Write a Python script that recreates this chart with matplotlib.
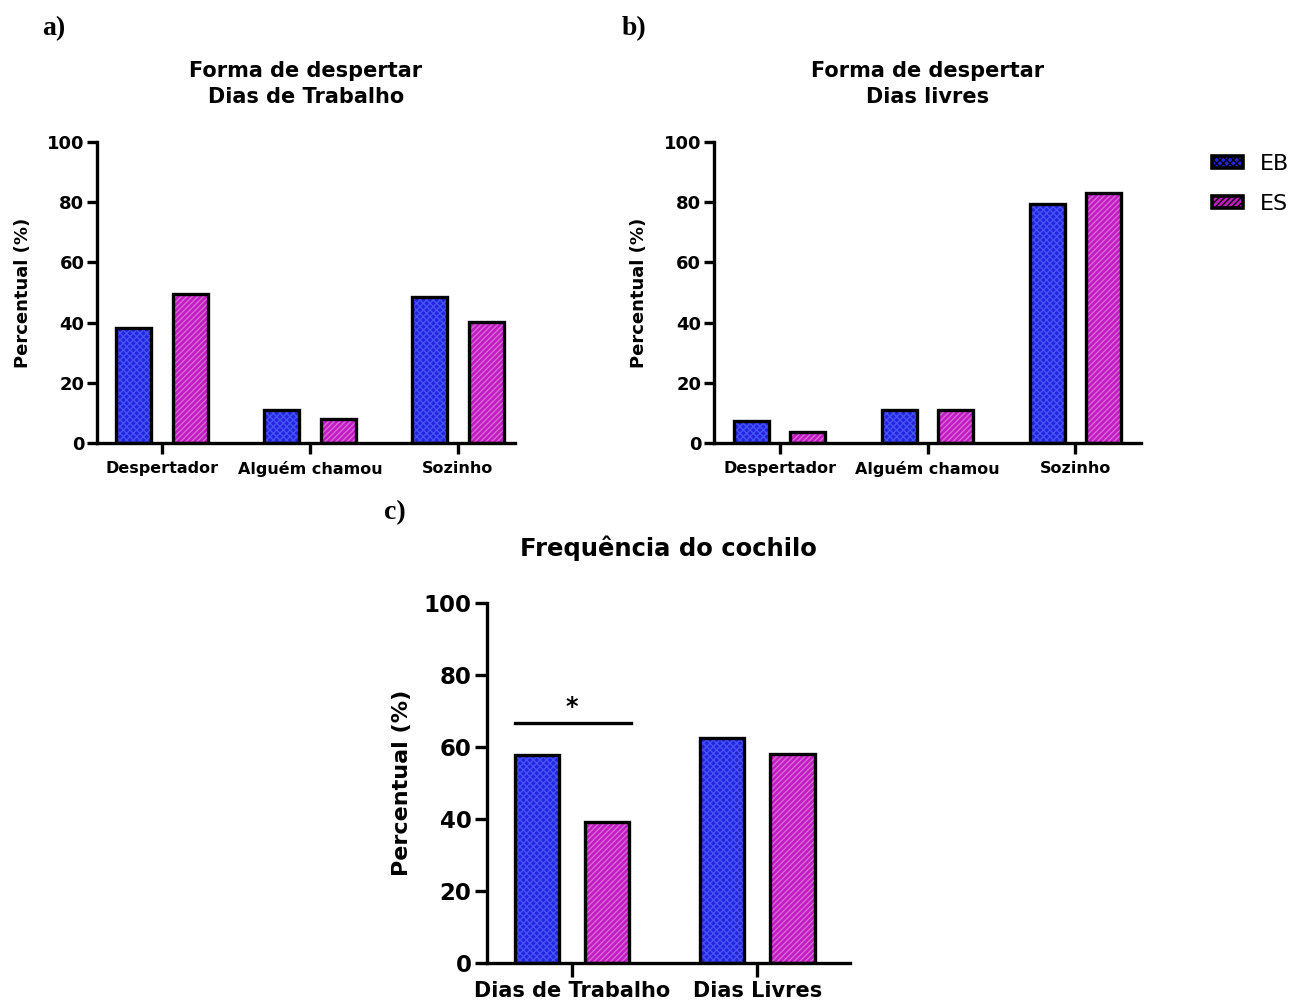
import numpy as np
import matplotlib
matplotlib.use("Agg")
import matplotlib.pyplot as plt
from matplotlib.patches import Patch

plt.rcParams['font.family'] = ['DejaVu Sans']
plt.rcParams['hatch.linewidth'] = 1.0

# data
cat_ab = ["Despertador", "Alguém chamou", "Sozinho"]
trab_eb = [38.2, 11.0, 48.5]
trab_es = [49.5, 8.0, 40.2]
livre_eb = [7.4, 11.0, 79.5]
livre_es = [3.8, 11.0, 83.0]

cat_c = ["Dias de Trabalho", "Dias Livres"]
coch_eb = [57.8, 62.5]
coch_es = [39.3, 58.0]

eb_col, eb_hatch_col = "#2424e0", "#4654f4"
es_col, es_hatch_col = "#c01cc0", "#dc66dc"


def draw_bars(ax, eb, es, off, w):
    x = np.arange(len(eb))
    for xs, vals, fc, hc, h in [(x - off, eb, eb_col, eb_hatch_col, "xxxxx"),
                                (x + off, es, es_col, es_hatch_col, "//////")]:
        ax.bar(xs, vals, w, color=fc, edgecolor=hc, hatch=h, linewidth=0, zorder=2)
        ax.bar(xs, vals, w, fill=False, edgecolor="black", linewidth=2.4, zorder=3)
    return x


def style(ax, labels, x, xfs, yfs, lfs, xlen, ylen, lpad, xpad):
    ax.spines[['top', 'right']].set_visible(False)
    ax.spines[['left', 'bottom']].set_linewidth(2.4)
    ax.set_ylim(0, 100)
    ax.set_yticks([0, 20, 40, 60, 80, 100])
    ax.set_xticks(x)
    ax.set_xticklabels(labels, fontweight='bold', fontsize=xfs)
    ax.tick_params(axis='y', width=2.4, length=ylen, pad=2, labelsize=yfs)
    ax.tick_params(axis='x', width=2.4, length=xlen, pad=xpad)
    for t in ax.get_yticklabels():
        t.set_fontweight('bold')
    ax.set_ylabel("Percentual (%)", fontweight='bold', fontsize=lfs, labelpad=lpad)


fig = plt.figure(figsize=(13.12, 10.07), dpi=100)

ax1 = fig.add_axes([0.0739, 0.560, 0.3186, 0.299])
x = draw_bars(ax1, trab_eb, trab_es, 0.19, 0.236)
style(ax1, cat_ab, x, 11.5, 13, 13, 8, 7, 11, 5)
ax1.set_xlim(-0.44, 2.385)
ax1.set_title("Forma de despertar\nDias de Trabalho", fontweight='bold', fontsize=15,
              pad=28, linespacing=1.35)

ax2 = fig.add_axes([0.544, 0.560, 0.326, 0.299])
x = draw_bars(ax2, livre_eb, livre_es, 0.19, 0.236)
style(ax2, cat_ab, x, 11.5, 13, 13, 8, 7, 11, 5)
ax2.set_xlim(-0.446, 2.446)
ax2.set_title("Forma de despertar\nDias livres", fontweight='bold', fontsize=15,
              pad=28, linespacing=1.35)

ax3 = fig.add_axes([0.371, 0.0437, 0.2767, 0.3575])
x = draw_bars(ax3, coch_eb, coch_es, 0.19, 0.24)
style(ax3, cat_c, x, 15, 16.5, 16, 10, 9, 8, 3)
ax3.set_xlim(-0.46, 1.5)
ax3.set_title("Frequência do cochilo", fontweight='bold', fontsize=17.5, pad=34)
ax3.plot([-0.31, 0.32], [66.7, 66.7], color='black', linewidth=2.4)
ax3.text(0.0, 71.0, "*", ha='center', va='center', fontsize=17, fontweight='bold')

handles = [Patch(facecolor=eb_col, edgecolor='black', hatch='xxxxx', linewidth=2.6),
           Patch(facecolor=es_col, edgecolor='black', hatch='//////', linewidth=2.6)]
fig.legend(handles, ["EB", "ES"], loc='upper left', bbox_to_anchor=(0.9085, 0.867),
           frameon=False, fontsize=16, handlelength=1.4, handleheight=0.45,
           handletextpad=0.75, labelspacing=0.9)

fig.text(0.032, 0.972, "a)", family='Liberation Serif', fontweight='bold', fontsize=20, va='center')
fig.text(0.474, 0.972, "b)", family='Liberation Serif', fontweight='bold', fontsize=20, va='center')
fig.text(0.293, 0.491, "c)", family='Liberation Serif', fontweight='bold', fontsize=20, va='center')

fig.savefig("out.png", dpi=100)
